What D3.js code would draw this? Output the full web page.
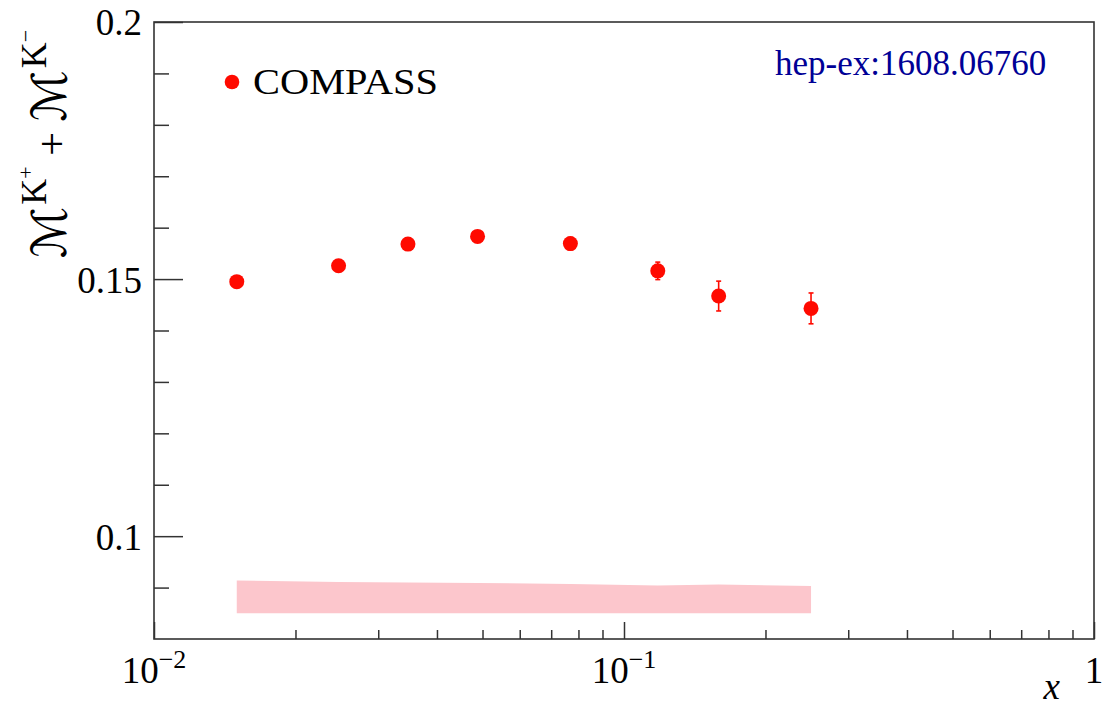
<!DOCTYPE html>
<html>
<head>
<meta charset="utf-8">
<script src="https://cdn.jsdelivr.net/npm/d3@7"></script>
<style>
  html, body { margin: 0; padding: 0; background: #fff; }
  svg { display: block; }
</style>
</head>
<body>
<svg id="chart" width="1104" height="709"></svg>
<script>
// ---- data ----
const xValues  = [0.0150, 0.0247, 0.0347, 0.0488, 0.0769, 0.118, 0.159, 0.250];
const yValues  = [0.1495, 0.1526, 0.1568, 0.1583, 0.1569, 0.1516, 0.1467, 0.1443];
const statErr  = [0.0007, 0.0008, 0.0009, 0.0010, 0.0012, 0.0017, 0.0029, 0.0030];
const sysErr   = [0.0064, 0.0061, 0.0060, 0.0059, 0.0057, 0.0054, 0.0056, 0.0053];
const bandBase = 0.085;
const seriesName = "COMPASS";
const refLabel = "hep-ex:1608.06760";
const yTickValues = [0.1, 0.15, 0.2];
const yTickLabels = ["0.1", "0.15", "0.2"];
const yMinorValues = [0.09, 0.11, 0.12, 0.13, 0.14, 0.16, 0.17, 0.18, 0.19];
const xTickValues = [0.01, 0.1, 1];
const xTickBase = ["10", "10", "1"];
const xTickExp = ["\u22122", "\u22121", ""];
const xMinorValues = [0.02,0.03,0.04,0.05,0.06,0.07,0.08,0.09,0.2,0.3,0.4,0.5,0.6,0.7,0.8,0.9];

// ---- layout ----
const L = 154, R = 1094, T = 22, B = 639;
const svg = d3.select("#chart");
const x = d3.scaleLog().domain([0.01, 1]).range([L, R]);
const y = d3.scaleLinear().domain([0.08, 0.2]).range([B, T]);
const serif = "'Liberation Serif', 'Times New Roman', serif";
const red = "#ff0a00";

const pts = xValues.map((v, i) => ({x: v, y: yValues[i], e: statErr[i], s: sysErr[i]}));

// systematic band
const area = d3.area()
  .x(d => x(d.x))
  .y0(() => y(bandBase))
  .y1(d => y(bandBase + d.s));
svg.append("path").datum(pts).attr("d", area).attr("fill", "#fcc6cc");

// axes ticks
const axCol = "#333";
const gy = svg.append("g").attr("transform", `translate(${L},0)`);
gy.call(d3.axisLeft(y).tickValues(yTickValues).tickSizeInner(-29).tickSizeOuter(0)
  .tickPadding(12).tickFormat((d, i) => yTickLabels[i]));
gy.append("g").call(d3.axisLeft(y).tickValues(yMinorValues).tickSizeInner(-15).tickSizeOuter(0).tickFormat(""));
gy.selectAll(".domain").remove();
gy.selectAll("line").attr("stroke", axCol).attr("stroke-width", 1.5);
gy.selectAll("text").attr("font-family", serif).attr("font-size", 37).attr("fill", "#000").attr("dy", "0.35em");

const gx = svg.append("g").attr("transform", `translate(0,${B})`);
gx.call(d3.axisBottom(x).tickValues(xTickValues).tickSizeInner(-17).tickSizeOuter(0).tickFormat(""));
gx.append("g").call(d3.axisBottom(x).tickValues(xMinorValues).tickSizeInner(-9).tickSizeOuter(0).tickFormat(""));
gx.selectAll(".domain").remove();
gx.selectAll("line").attr("stroke", axCol).attr("stroke-width", 1.5);

// x tick labels with superscripts
xTickValues.forEach((v, i) => {
  const t = svg.append("text").attr("x", x(v)).attr("y", 683)
    .attr("text-anchor", "middle").attr("font-family", serif).attr("font-size", 37).attr("fill", "#000");
  t.append("tspan").text(xTickBase[i]);
  if (xTickExp[i]) t.append("tspan").attr("dy", -15).attr("font-size", 26).text(xTickExp[i]);
});

// frame
svg.append("rect").attr("x", L).attr("y", T).attr("width", R - L).attr("height", B - T)
  .attr("fill", "none").attr("stroke", axCol).attr("stroke-width", 1.6);

// error bars
const eb = svg.append("g").attr("stroke", red).attr("stroke-width", 1.6);
pts.forEach(d => {
  eb.append("line").attr("x1", x(d.x)).attr("x2", x(d.x)).attr("y1", y(d.y - d.e)).attr("y2", y(d.y + d.e));
  [d.y - d.e, d.y + d.e].forEach(v => eb.append("line")
    .attr("x1", x(d.x) - 2.5).attr("x2", x(d.x) + 2.5).attr("y1", y(v)).attr("y2", y(v)));
});
// markers
svg.append("g").selectAll("circle").data(pts).join("circle")
  .attr("cx", d => x(d.x)).attr("cy", d => y(d.y)).attr("r", 7.5).attr("fill", red);

// legend
svg.append("circle").attr("cx", 232).attr("cy", 82).attr("r", 7.3).attr("fill", red);
svg.append("text").attr("x", 253).attr("y", 94).attr("font-family", serif).attr("font-size", 35)
  .attr("textLength", 185).attr("lengthAdjust", "spacingAndGlyphs").attr("fill", "#000").text(seriesName);

// reference label
svg.append("text").attr("x", 775).attr("y", 75).attr("font-family", serif).attr("font-size", 35)
  .attr("fill", "#000096").text(refLabel);

// axis titles
svg.append("text").attr("x", 1060).attr("y", 699).attr("text-anchor", "end")
  .attr("font-family", serif).attr("font-style", "italic").attr("font-size", 37).attr("fill", "#000").text("x");

const mFont = "'DejaVu Serif', 'DejaVu Sans', serif";
const yt = svg.append("text").attr("transform", "translate(66,258) rotate(-90)")
  .attr("font-family", serif).attr("font-size", 48).attr("fill", "#000");
yt.append("tspan").attr("font-family", mFont).attr("font-style", "italic").text("\u2133");
yt.append("tspan").attr("dx", 2).attr("dy", -20).attr("font-size", 36).text("K");
yt.append("tspan").attr("dy", -13).attr("font-size", 22).text("+");
yt.append("tspan").attr("dy", 33).attr("font-size", 42).text(" + ");
yt.append("tspan").attr("font-family", mFont).attr("font-style", "italic").text("\u2133");
yt.append("tspan").attr("dx", 2).attr("dy", -20).attr("font-size", 36).text("K");
yt.append("tspan").attr("dy", -13).attr("font-size", 22).text("\u2212");
</script>
</body>
</html>
